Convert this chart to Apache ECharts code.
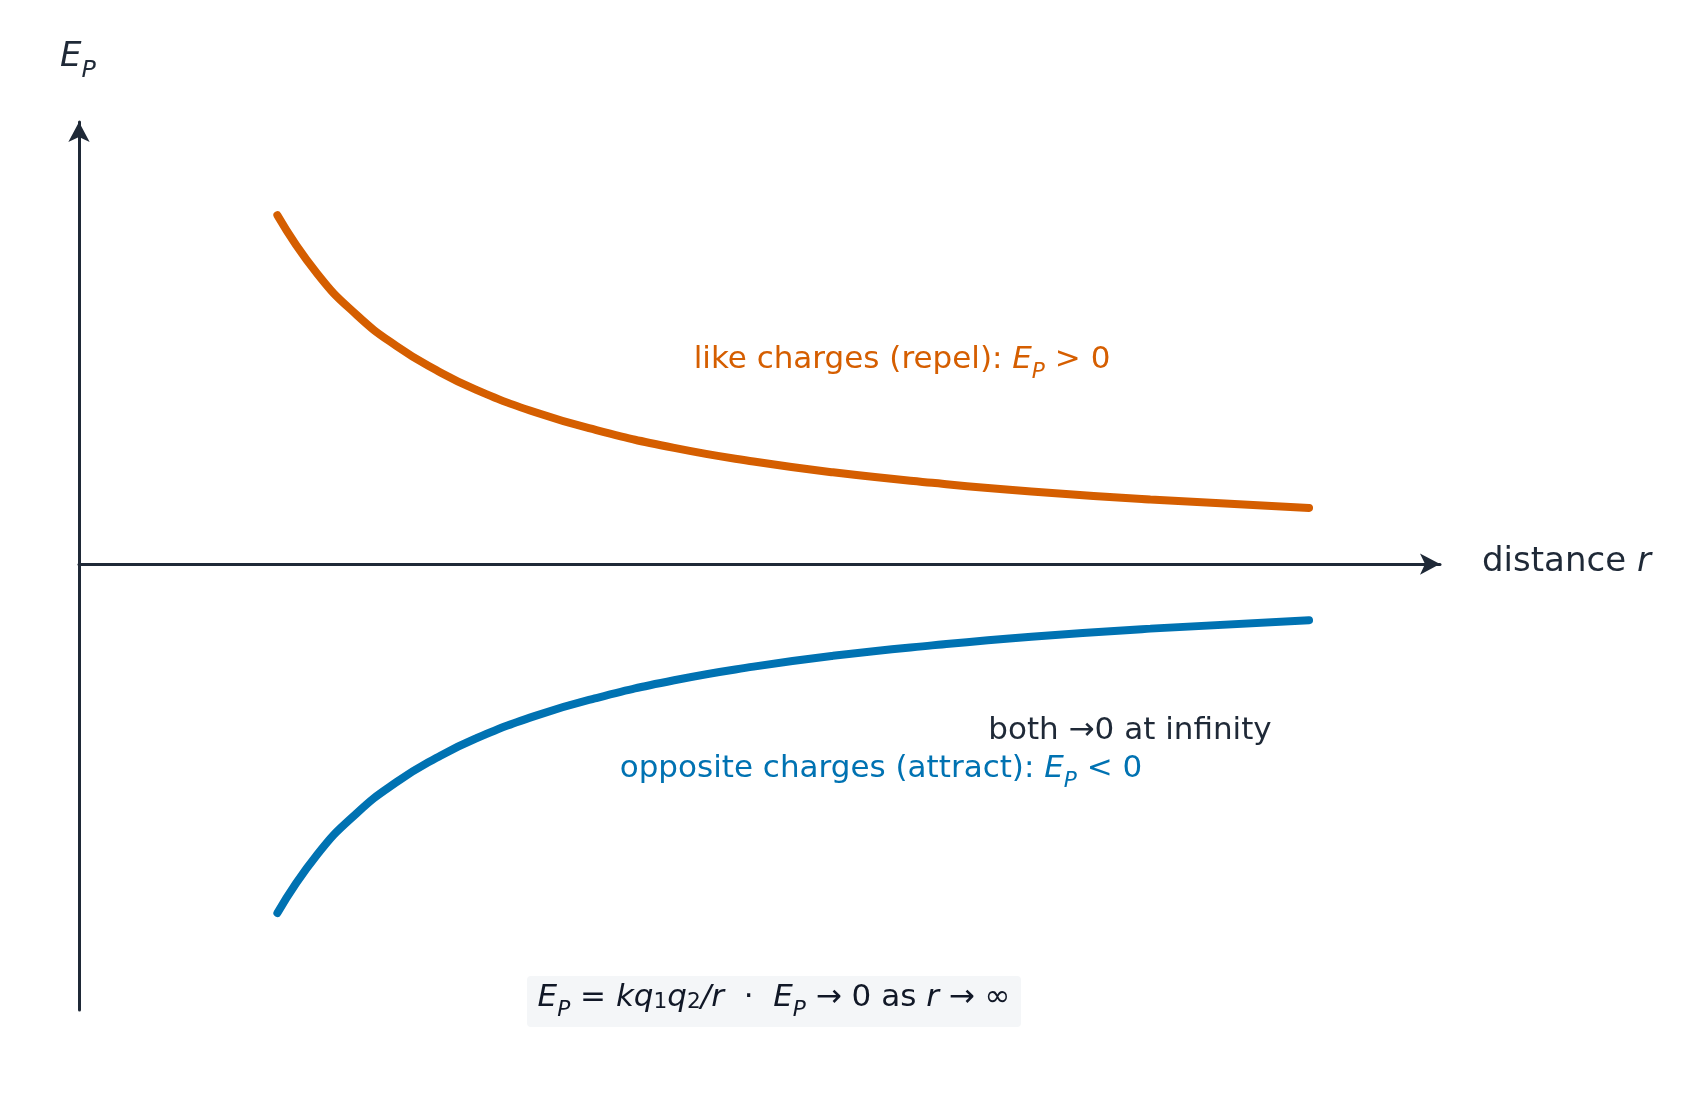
<!DOCTYPE html><html><head><meta charset="utf-8"><style>html,body{margin:0;background:#fff}#c{width:1697px;height:1105px}</style>
<script src="https://cdn.jsdelivr.net/npm/echarts@6/dist/echarts.min.js"></script></head><body><div id="c"></div><script>
const rValues=[1,1.2,1.4,1.6,1.8,2,2.3,2.6,3,3.4,3.8,4.3,4.8,5.4,6.2];
const likeValues=[1,0.833,0.714,0.625,0.556,0.5,0.435,0.385,0.333,0.294,0.263,0.233,0.208,0.185,0.161];
const oppositeValues=[-1,-0.833,-0.714,-0.625,-0.556,-0.5,-0.435,-0.385,-0.333,-0.294,-0.263,-0.233,-0.208,-0.185,-0.161];
const dark='#1f2937',orange='#d55e00',blue='#0072b2';
const F='"DejaVu Sans", sans-serif';
const rich=(c,s)=>({n:{fontFamily:F,fontSize:s,color:c},i:{fontFamily:F,fontSize:s,fontStyle:'italic',color:c},s:{fontFamily:F,fontSize:s*0.7,fontStyle:'italic',color:c,verticalAlign:'bottom',padding:[0,0,-s*0.25,0]},d:{fontFamily:F,fontSize:s*0.7,color:c,padding:[0,0,-s*0.25,0]}});
function txt(x,y,t,c,s,align,extra){return {type:'text',x:x,y:y,style:Object.assign({text:t,rich:rich(c,s),fill:c,font:s+'px '+F,align:align||'center',verticalAlign:'middle'},extra||{})};}
const chart=echarts.init(document.getElementById('c'));
chart.setOption({
 animation:false,
 grid:{left:79,right:257,top:122,bottom:95},
 xAxis:{type:'value',min:0,max:6.86,axisLine:{onZero:true,symbol:['none','arrow'],symbolSize:[16,20],lineStyle:{color:dark,width:3}},axisTick:{show:false},axisLabel:{show:false},splitLine:{show:false}},
 yAxis:{type:'value',min:-1.278,max:1.267,axisLine:{show:true,onZero:false,symbol:['none','arrow'],symbolSize:[16,20],lineStyle:{color:dark,width:3}},axisTick:{show:false},axisLabel:{show:false},splitLine:{show:false}},
 series:[
  {type:'line',smooth:true,symbol:'none',data:rValues.map((r,i)=>[r,likeValues[i]]),lineStyle:{color:orange,width:8,cap:'round'}},
  {type:'line',smooth:true,symbol:'none',data:rValues.map((r,i)=>[r,oppositeValues[i]]),lineStyle:{color:blue,width:8,cap:'round'}}
 ],
 graphic:[
  txt(60,57,'{i|E}{s|P}',dark,34,'left'),
  txt(1482,562,'{n|distance }{i|r}',dark,34,'left'),
  txt(902,360,'{n|like charges (repel): }{i|E}{s|P}{n| > 0}',orange,31),
  txt(1130,731,'{n|both →0 at infinity}',dark,31),
  txt(881,769,'{n|opposite charges (attract): }{i|E}{s|P}{n| < 0}',blue,31),
  {type:'rect',shape:{x:527,y:976,width:494,height:51,r:4},style:{fill:'#f4f6f8'}},
  txt(774,998,'{i|E}{s|P}{n| = }{i|kq}{d|1}{i|q}{d|2}{i|/r}{n|  ·  }{i|E}{s|P}{n| → 0 as }{i|r}{n| → ∞}','#111827',31)
 ]
});
</script></body></html>
